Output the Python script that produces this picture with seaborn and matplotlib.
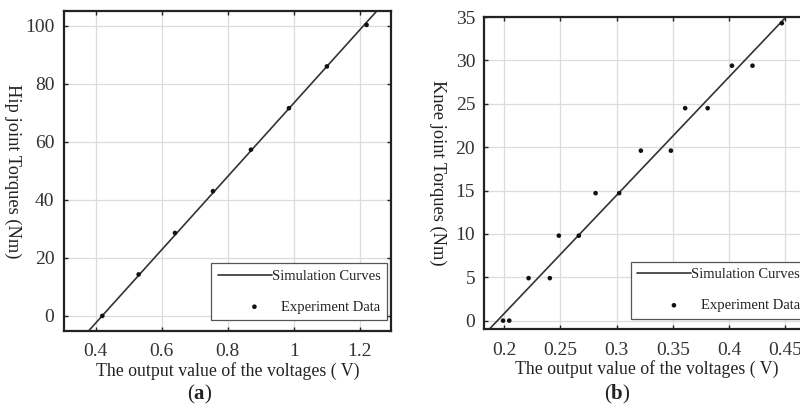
import matplotlib
matplotlib.use("Agg")
import matplotlib.pyplot as plt
import seaborn as sns

# ---- data ----
hip_volt = [0.42, 0.53, 0.64, 0.755, 0.87, 0.985, 1.10, 1.22]
hip_torque = [0.0, 14.3, 28.6, 43.0, 57.3, 71.6, 86.0, 100.3]
hip_sim_volt = [0.372, 1.262]
hip_sim_torque = [-6.0, 106.5]

knee_volt = [0.199, 0.2045, 0.2217, 0.2406, 0.2486, 0.2664, 0.2813, 0.3023,
             0.3216, 0.3483, 0.361, 0.381, 0.4026, 0.4209, 0.447]
knee_torque = [0.0, 0.0, 4.9, 4.9, 9.8, 9.8, 14.7, 14.7,
               19.6, 19.6, 24.5, 24.5, 29.4, 29.4, 34.3]
knee_sim_volt = [0.183, 0.455]
knee_sim_torque = [-1.5, 35.6]

hip_xticks = [0.4, 0.6, 0.8, 1.0, 1.2]
hip_xticklabels = ["0.4", "0.6", "0.8", "1", "1.2"]
hip_yticks = [0, 20, 40, 60, 80, 100]
knee_xticks = [0.2, 0.25, 0.3, 0.35, 0.4, 0.45]
knee_xticklabels = ["0.2", "0.25", "0.3", "0.35", "0.4", "0.45"]
knee_yticks = [0, 5, 10, 15, 20, 25, 30, 35]

sns.set_theme(style="white")
plt.rcParams["font.family"] = ["Liberation Serif", "DejaVu Serif"]
plt.rcParams["mathtext.fontset"] = "custom"
plt.rcParams["mathtext.bf"] = "Liberation Serif:bold"
plt.rcParams["mathtext.rm"] = "Liberation Serif"

fig = plt.figure(figsize=(8.0, 4.09), dpi=100)
ax1 = fig.add_axes([64/800, 1 - 331/409, 327/800, 320/409])
ax2 = fig.add_axes([483.5/800, 1 - 329.3/409, 327/800, 312.6/409])

def style(ax, xticks, xlabels, yticks, xlim, ylim, ylabel, lab_x, ypad):
    ax.set_xlim(*xlim)
    ax.set_ylim(*ylim)
    ax.set_xticks(xticks)
    ax.set_xticklabels(xlabels)
    ax.set_yticks(yticks)
    ax.grid(True, color="#dcdcdc", linewidth=0.9)
    ax.set_axisbelow(True)
    for s in ax.spines.values():
        s.set_visible(True)
        s.set_color("#222222")
        s.set_linewidth(1.6)
    ax.tick_params(axis="both", which="both", direction="in", length=3,
                   width=1.0, color="#222222", labelsize=14,
                   labelcolor="#333333", top=True, right=True,
                   bottom=True, left=True)
    ax.tick_params(axis="x", pad=9)
    ax.tick_params(axis="y", pad=ypad)
    ax.set_xlabel("The output value of the voltages ( V)", fontsize=12.8,
                  color="#222222", labelpad=1)
    ax.set_ylabel(ylabel, fontsize=13.2, color="#222222", rotation=270,
                  labelpad=0)
    ax.yaxis.set_label_coords(lab_x, 0.5)

def draw(ax, sx, sy, px, py):
    sns.lineplot(x=sx, y=sy, ax=ax, color="#333333", linewidth=1.2,
                 label="Simulation Curves", sort=False)
    sns.scatterplot(x=px, y=py, ax=ax, color="#111111", s=11,
                    edgecolor="none", label="Experiment Data", zorder=3)
    leg = ax.legend(loc="lower right", bbox_to_anchor=(0.988, 0.034),
                    frameon=True, fancybox=False, edgecolor="#555555",
                    framealpha=1, fontsize=10.5, handlelength=3.7,
                    handletextpad=0.0, labelspacing=1.2, borderpad=0.45,
                    borderaxespad=0.0, markerscale=1.0)
    leg.get_frame().set_linewidth(0.9)
    for t in leg.get_texts():
        t.set_color("#222222")
    try:
        for col in leg._legend_handle_box.get_children():
            col.align = "right"
    except Exception:
        pass

draw(ax1, hip_sim_volt, hip_sim_torque, hip_volt, hip_torque)
style(ax1, hip_xticks, hip_xticklabels, hip_yticks, (0.304, 1.294),
      (-5.2, 105.1), "Hip joint Torques (Nm)", -0.183, 7)

draw(ax2, knee_sim_volt, knee_sim_torque, knee_volt, knee_torque)
style(ax2, knee_xticks, knee_xticklabels, knee_yticks, (0.1816, 0.4725),
      (-1.0, 35.05), "Knee joint Torques (Nm)", -0.168, 6)

fig.text(200/800, 1 - 394/409, r"($\mathbf{a}$)", ha="center", va="center",
         fontsize=15, color="#222222")
fig.text(617/800, 1 - 394/409, r"($\mathbf{b}$)", ha="center", va="center",
         fontsize=15, color="#222222")

fig.savefig("out.png", dpi=100)
